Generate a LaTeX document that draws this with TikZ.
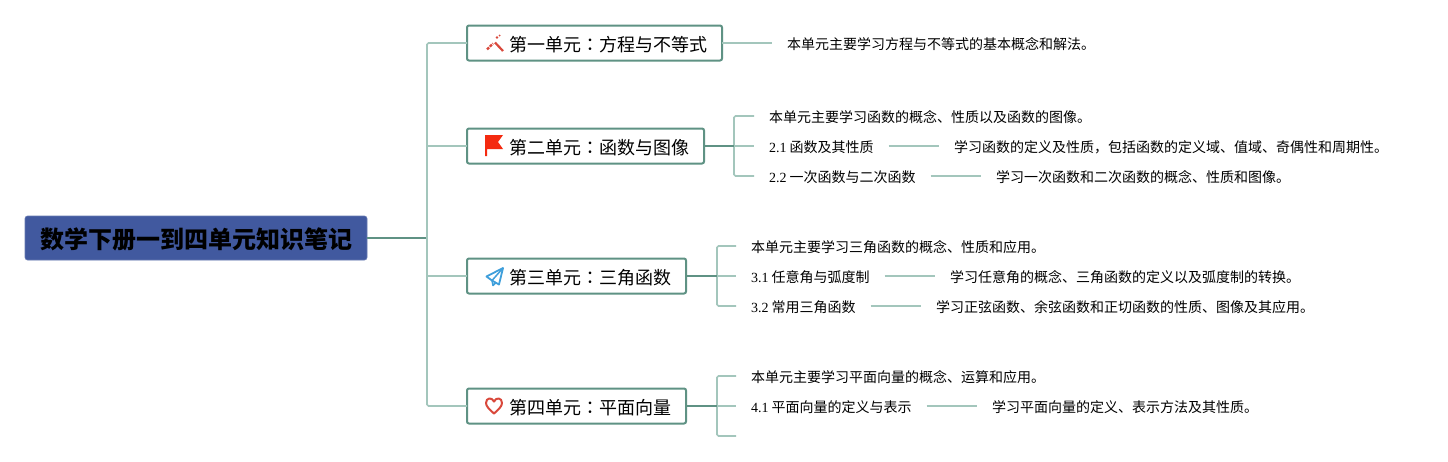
\documentclass[tikz,border=0pt]{standalone}
\usepackage{fontspec}
\setmainfont{Noto Sans CJK SC}
\newfontfamily\lat{Liberation Serif}
\newfontfamily\cjktc{Noto Sans CJK TC}
\definecolor{rootblue}{HTML}{41599F}
\definecolor{dark}{HTML}{5F9284}
\definecolor{lite}{HTML}{A3C6BC}
\definecolor{iconred}{HTML}{D9483B}
\definecolor{flagred}{HTML}{F42A10}
\definecolor{iconblue}{HTML}{3F9FDB}
\newcommand{\colonmark}{{\cjktc ：}}
\tikzset{
  rootnode/.style={draw=rootblue!80!white,fill=rootblue,rounded corners=2.5pt,line width=.6pt,inner xsep=15pt,inner ysep=0pt,minimum height=44pt,font=\fontsize{24}{28}\selectfont\bfseries,text height=20pt,text depth=0pt,anchor=west,outer sep=0pt},
  topic/.style={draw=dark,fill=white,rounded corners=2pt,line width=2pt,inner xsep=15pt,inner ysep=0pt,minimum height=35pt,font=\fontsize{18}{22}\selectfont,text height=18pt,text depth=.2pt,anchor=west,outer sep=0pt},
  leaf/.style={inner xsep=15pt,inner ysep=0pt,font=\fontsize{14}{16}\selectfont,text height=13pt,text depth=1pt,anchor=west,outer sep=0pt},
  thick link/.style={draw=dark,line width=2pt},
  thin link/.style={draw=lite,line width=1.6pt},
}
\begin{document}
\begin{tikzpicture}[x=1pt,y=-1pt]
\useasboundingbox (0,0) rectangle (1448,461);
\fill[white] (0,0) rectangle (1448,461);

\coordinate (ft) at (427,238);
\coordinate (f1) at (427,43);
\coordinate (f2) at (427,146);
\coordinate (f3) at (427,276);
\coordinate (f4) at (427,406);
\coordinate (c2) at (734,146);
\coordinate (c2a) at (734,116);
\coordinate (c2c) at (734,176);
\coordinate (c3) at (717,276);
\coordinate (c3a) at (717,246);
\coordinate (c3c) at (717,306);
\coordinate (c4) at (717,406);
\coordinate (c4a) at (717,376);
\coordinate (c4c) at (717,436);
\coordinate (e4c) at (736,436);

\node[rootnode] (root) at (25,238) {数学下册一到四单元知识笔记};
\node[topic] (t1) at (467,43) {\hspace*{27pt}第一单元\colonmark 方程与不等式};
\node[topic] (t2) at (467,146) {\hspace*{27pt}第二单元\colonmark 函数与图像};
\node[topic] (t3) at (467,276) {\hspace*{27pt}第三单元\colonmark 三角函数};
\node[topic] (t4) at (467,406) {\hspace*{27pt}第四单元\colonmark 平面向量};

\node[leaf] (d1) at (772,43) {本单元主要学习方程与不等式的基本概念和解法。};

\node[leaf] (l2a) at (754,116) {本单元主要学习函数的概念、性质以及函数的图像。};
\node[leaf] (l2b) at (754,146) {{\lat 2.1} 函数及其性质};
\node[leaf] (l2c) at (754,176) {{\lat 2.2} 一次函数与二次函数};
\node[leaf] (d2b) at (939,146) {学习函数的定义及性质，包括函数的定义域、值域、奇偶性和周期性。};
\node[leaf] (d2c) at (981,176) {学习一次函数和二次函数的概念、性质和图像。};

\node[leaf] (l3a) at (736,246) {本单元主要学习三角函数的概念、性质和应用。};
\node[leaf] (l3b) at (736,276) {{\lat 3.1} 任意角与弧度制};
\node[leaf] (l3c) at (736,306) {{\lat 3.2} 常用三角函数};
\node[leaf] (d3b) at (935,276) {学习任意角的概念、三角函数的定义以及弧度制的转换。};
\node[leaf] (d3c) at (921,306) {学习正弦函数、余弦函数和正切函数的性质、图像及其应用。};

\node[leaf] (l4a) at (736,376) {本单元主要学习平面向量的概念、运算和应用。};
\node[leaf] (l4b) at (736,406) {{\lat 4.1} 平面向量的定义与表示};
\node[leaf] (d4b) at (977,406) {学习平面向量的定义、表示方法及其性质。};

% trunk
\draw[thick link] (root.east) -- (ft);
\draw[thin link,rounded corners=1.5pt] (t1.west) -- (f1) -- (f4) -- (t4.west);
\draw[thin link] (f2) -- (t2.west);
\draw[thin link] (f3) -- (t3.west);

% unit 1
\draw[thin link] (t1.east) -- (d1.west);

% unit 2
\draw[thin link,rounded corners=1.5pt] (l2a.west) -- (c2a) -- (c2c) -- (l2c.west);
\draw[thin link] (c2) -- (l2b.west);
\draw[thick link] (t2.east) -- (c2);
\draw[thin link] (l2b.east) -- (d2b.west);
\draw[thin link] (l2c.east) -- (d2c.west);

% unit 3
\draw[thin link,rounded corners=1.5pt] (l3a.west) -- (c3a) -- (c3c) -- (l3c.west);
\draw[thin link] (c3) -- (l3b.west);
\draw[thick link] (t3.east) -- (c3);
\draw[thin link] (l3b.east) -- (d3b.west);
\draw[thin link] (l3c.east) -- (d3c.west);

% unit 4
\draw[thin link,rounded corners=1.5pt] (l4a.west) -- (c4a) -- (c4c) -- (e4c);
\draw[thin link] (c4) -- (l4b.west);
\draw[thick link] (t4.east) -- (c4);
\draw[thin link] (l4b.east) -- (d4b.west);

% icons
\draw[iconred,line width=2.2pt] (495,42.5) -- (503,51);
\draw[iconred,line width=2.2pt,dash pattern=on 3pt off 1pt] (487,49.5) -- (493,43.5);
\fill[iconred] (497,37.5) circle (1.3pt) (499.5,35.5) circle (1pt);
\fill[flagred] (485,135) -- (503,135) -- (498,142) -- (503,149) -- (487,149) -- (487,156) -- (485,156) -- cycle;
\draw[iconblue,line width=1.8pt,line join=round] (503,268) -- (486.5,276.5) -- (492,280.5) -- (499,284.5) -- cycle;
\draw[iconblue,line width=1.5pt,line join=round] (503,268) -- (492,280.5) -- (493,285.5) -- (496,282.5);
\draw[iconred,line width=2pt,line join=round] (494,413.5) .. controls (490,410) and (486,406.5) .. (486,403) .. controls (486,397.5) and (492,397) .. (494,401.5) .. controls (496,397) and (502,397.5) .. (502,403) .. controls (502,406.5) and (498,410) .. (494,413.5) -- cycle;
\end{tikzpicture}
\end{document}
